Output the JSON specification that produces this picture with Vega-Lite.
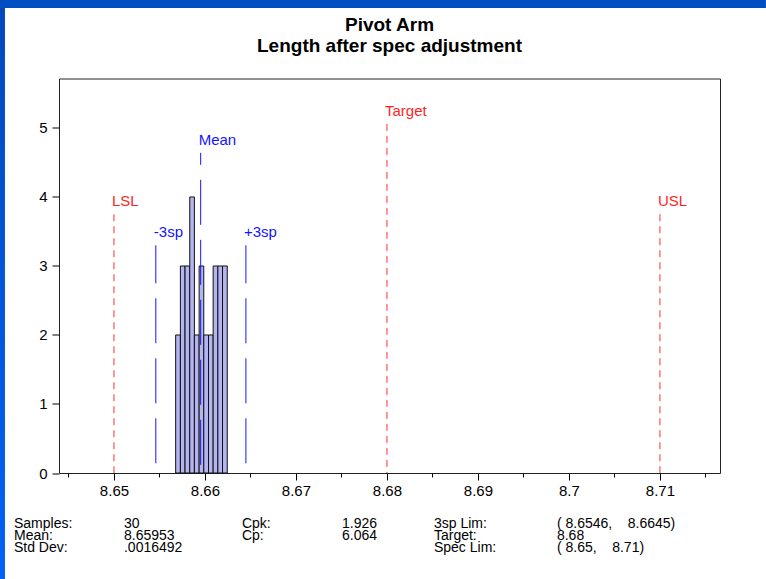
{
  "$schema": "https://vega.github.io/schema/vega-lite/v6.json",
  "width": 661,
  "height": 394.5,
  "autosize": "none",
  "padding": {"left": 59, "top": 78.5, "right": 46, "bottom": 106},
  "background": "white",
  "title": {
    "text": ["Pivot Arm", "Length after spec adjustment"],
    "font": "Liberation Sans",
    "fontSize": 19,
    "fontWeight": "bold",
    "lineHeight": 21,
    "color": "black",
    "anchor": "middle",
    "baseline": "bottom",
    "offset": -75
  },
  "datasets": {
    "bins": [
      {"start": 8.65678, "end": 8.6573, "count": 2},
      {"start": 8.6573, "end": 8.65781, "count": 3},
      {"start": 8.65781, "end": 8.65833, "count": 3},
      {"start": 8.65833, "end": 8.65884, "count": 4},
      {"start": 8.65884, "end": 8.65936, "count": 2},
      {"start": 8.65936, "end": 8.65987, "count": 3},
      {"start": 8.65987, "end": 8.66039, "count": 2},
      {"start": 8.66039, "end": 8.6609, "count": 2},
      {"start": 8.6609, "end": 8.66142, "count": 3},
      {"start": 8.66142, "end": 8.66193, "count": 3},
      {"start": 8.66193, "end": 8.66245, "count": 3}
    ],
    "refs": [
      {"label": "LSL", "value": 8.65, "top": 3.75, "kind": "spec"},
      {"label": "Target", "value": 8.68, "top": 5.06, "kind": "spec"},
      {"label": "USL", "value": 8.71, "top": 3.75, "kind": "spec"},
      {"label": "Mean", "value": 8.65953, "top": 4.64, "kind": "stat"},
      {"label": "-3sp", "value": 8.6546, "top": 3.3, "kind": "stat"},
      {"label": "+3sp", "value": 8.6645, "top": 3.3, "kind": "stat"}
    ],
    "stats": [
      {"col": 1, "text": "Samples:\nMean:\nStd Dev:"},
      {"col": 2, "text": "30\n8.65953\n.0016492"},
      {"col": 3, "text": "Cpk:\nCp:"},
      {"col": 4, "text": "1.926\n6.064"},
      {"col": 5, "text": "3sp Lim:\nTarget:\nSpec Lim:"},
      {"col": 6, "text": "(\u00a08.6546,\u00a0\u00a0\u00a0\u00a08.6645)\n\u00a08.68\n(\u00a08.65,\u00a0\u00a0\u00a0\u00a08.71)"}
    ]
  },
  "layer": [
    {
      "data": {"values": [{}]},
      "mark": {
        "type": "rect",
        "strokeWidth": 0,
        "fill": {
          "gradient": "linear",
          "x1": 0, "y1": 0, "x2": 0, "y2": 1,
          "stops": [
            {"offset": 0, "color": "#0048bc"},
            {"offset": 1, "color": "#0062f6"}
          ]
        }
      },
      "encoding": {
        "x": {"datum": 8.637473, "type": "quantitative"},
        "x2": {"datum": 8.638022},
        "y": {"datum": 6.86, "type": "quantitative"},
        "y2": {"datum": -1.54}
      }
    },
    {
      "data": {"values": [{}]},
      "mark": {"type": "rect", "strokeWidth": 0, "fill": "#004fc2"},
      "encoding": {
        "x": {"datum": 8.637473, "type": "quantitative"},
        "x2": {"datum": 8.72165},
        "y": {"datum": 6.86, "type": "quantitative"},
        "y2": {"datum": 6.739}
      }
    },
    {
      "data": {"name": "bins"},
      "mark": {"type": "rect", "fill": "#b4b4f0", "stroke": "#111111", "strokeWidth": 1},
      "encoding": {
        "x": {
          "field": "start",
          "type": "quantitative",
          "title": null,
          "scale": {"domain": [8.64396, 8.7166], "nice": false, "zero": false},
          "axis": {
            "values": [8.645, 8.65, 8.655, 8.66, 8.665, 8.67, 8.675, 8.68, 8.685, 8.69, 8.695, 8.7, 8.705, 8.71, 8.715],
            "labelExpr": "round(datum.value * 200) % 2 == 0 ? format(datum.value, '~g') : ''",
            "tickSize": {"condition": {"test": "round(datum.value * 200) % 2 == 1", "value": 4}, "value": 7},
            "labelPadding": 3,
            "labelFlush": false,
            "labelOverlap": false,
            "labelBound": false,
            "grid": false,
            "domain": false
          }
        },
        "x2": {"field": "end"},
        "y": {
          "field": "count",
          "type": "quantitative",
          "title": null,
          "scale": {"domain": [0, 5.717], "nice": false, "zero": false},
          "axis": {
            "values": [0, 0.5, 1, 1.5, 2, 2.5, 3, 3.5, 4, 4.5, 5, 5.5],
            "labelExpr": "datum.value % 1 == 0 ? format(datum.value, 'd') : ''",
            "tickSize": {"condition": {"test": "datum.value % 1 != 0", "value": 4}, "value": 7},
            "labelPadding": 5,
            "labelOverlap": false,
            "grid": false,
            "domain": false
          }
        },
        "y2": {"datum": 0}
      }
    },
    {
      "data": {"name": "refs"},
      "transform": [{"filter": "datum.kind == 'spec'"}],
      "mark": {"type": "rule", "color": "#ff3030", "strokeWidth": 1, "strokeDash": [7, 5]},
      "encoding": {
        "x": {"field": "value", "type": "quantitative", "title": null},
        "y": {"field": "top", "type": "quantitative", "title": null},
        "y2": {"datum": 0}
      }
    },
    {
      "data": {"name": "refs"},
      "transform": [{"filter": "datum.label == 'Mean'"}],
      "mark": {"type": "rule", "color": "#1414ff", "strokeWidth": 1, "strokeDash": [45, 15], "strokeDashOffset": 33},
      "encoding": {
        "x": {"field": "value", "type": "quantitative", "title": null},
        "y": {"field": "top", "type": "quantitative", "title": null},
        "y2": {"datum": 0}
      }
    },
    {
      "data": {"name": "refs"},
      "transform": [{"filter": "datum.kind == 'stat' && datum.label != 'Mean'"}],
      "mark": {"type": "rule", "color": "#1414ff", "strokeWidth": 1, "strokeDash": [45, 15], "strokeDashOffset": 7},
      "encoding": {
        "x": {"field": "value", "type": "quantitative", "title": null},
        "y": {"field": "top", "type": "quantitative", "title": null},
        "y2": {"datum": 0}
      }
    },
    {
      "data": {"name": "refs"},
      "mark": {"type": "text", "align": "left", "baseline": "alphabetic", "dx": -2, "dy": -8, "fontSize": 15},
      "encoding": {
        "x": {"field": "value", "type": "quantitative", "title": null},
        "y": {"field": "top", "type": "quantitative", "title": null},
        "text": {"field": "label", "type": "nominal"},
        "color": {
          "field": "kind",
          "type": "nominal",
          "scale": {"domain": ["spec", "stat"], "range": ["#ff1f1f", "#1414ff"]},
          "legend": null
        }
      }
    },
    {
      "data": {"name": "stats"},
      "transform": [{"filter": "datum.col == 1"}],
      "mark": {"type": "text", "align": "left", "baseline": "alphabetic", "fontSize": 14, "lineBreak": "\n", "lineHeight": 11.8, "color": "black"},
      "encoding": {"x": {"datum": 8.639011, "type": "quantitative"}, "y": {"datum": -0.797, "type": "quantitative"}, "text": {"field": "text", "type": "nominal"}}
    },
    {
      "data": {"name": "stats"},
      "transform": [{"filter": "datum.col == 2"}],
      "mark": {"type": "text", "align": "left", "baseline": "alphabetic", "fontSize": 14, "lineBreak": "\n", "lineHeight": 11.8, "color": "black"},
      "encoding": {"x": {"datum": 8.651099, "type": "quantitative"}, "y": {"datum": -0.797, "type": "quantitative"}, "text": {"field": "text", "type": "nominal"}}
    },
    {
      "data": {"name": "stats"},
      "transform": [{"filter": "datum.col == 3"}],
      "mark": {"type": "text", "align": "left", "baseline": "alphabetic", "fontSize": 14, "lineBreak": "\n", "lineHeight": 11.8, "color": "black"},
      "encoding": {"x": {"datum": 8.664066, "type": "quantitative"}, "y": {"datum": -0.797, "type": "quantitative"}, "text": {"field": "text", "type": "nominal"}}
    },
    {
      "data": {"name": "stats"},
      "transform": [{"filter": "datum.col == 4"}],
      "mark": {"type": "text", "align": "left", "baseline": "alphabetic", "fontSize": 14, "lineBreak": "\n", "lineHeight": 11.8, "color": "black"},
      "encoding": {"x": {"datum": 8.675055, "type": "quantitative"}, "y": {"datum": -0.797, "type": "quantitative"}, "text": {"field": "text", "type": "nominal"}}
    },
    {
      "data": {"name": "stats"},
      "transform": [{"filter": "datum.col == 5"}],
      "mark": {"type": "text", "align": "left", "baseline": "alphabetic", "fontSize": 14, "lineBreak": "\n", "lineHeight": 11.8, "color": "black"},
      "encoding": {"x": {"datum": 8.685165, "type": "quantitative"}, "y": {"datum": -0.797, "type": "quantitative"}, "text": {"field": "text", "type": "nominal"}}
    },
    {
      "data": {"name": "stats"},
      "transform": [{"filter": "datum.col == 6"}],
      "mark": {"type": "text", "align": "left", "baseline": "alphabetic", "fontSize": 14, "lineBreak": "\n", "lineHeight": 11.8, "color": "black"},
      "encoding": {"x": {"datum": 8.698681, "type": "quantitative"}, "y": {"datum": -0.797, "type": "quantitative"}, "text": {"field": "text", "type": "nominal"}}
    }
  ],
  "config": {
    "font": "Liberation Sans",
    "view": {"stroke": "#222222", "strokeWidth": 1},
    "axis": {
      "labelFont": "Liberation Sans",
      "labelFontSize": 15,
      "labelColor": "black",
      "tickColor": "black",
      "tickWidth": 1
    }
  }
}
